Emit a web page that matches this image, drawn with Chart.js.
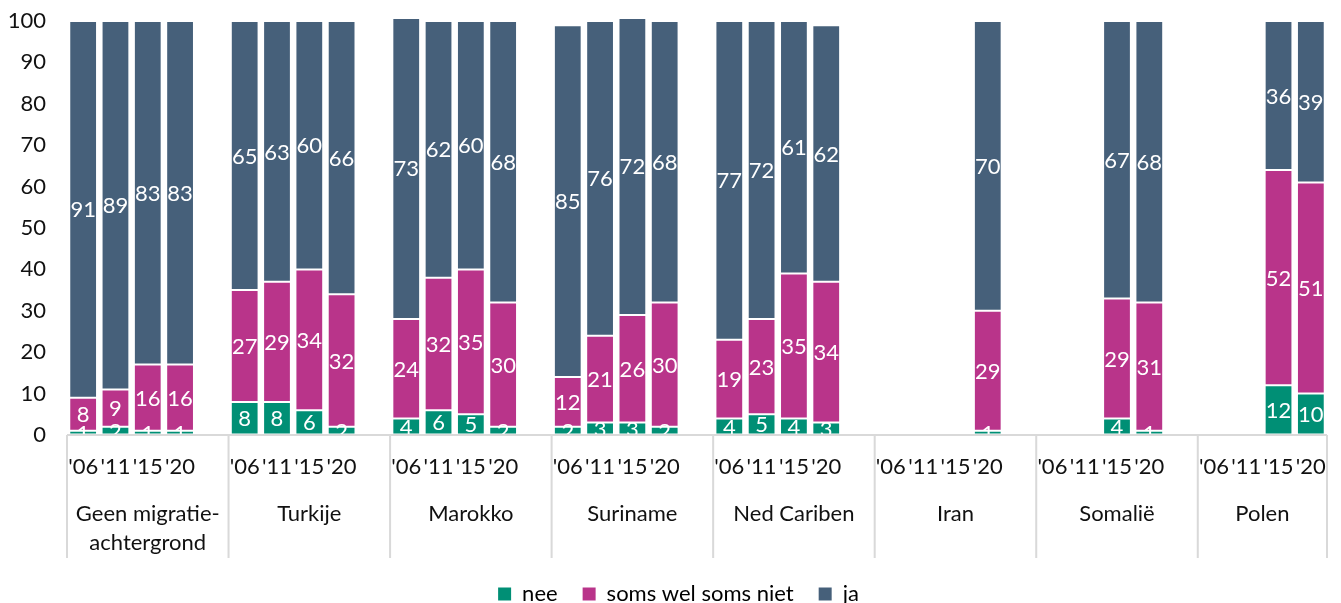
<!DOCTYPE html>
<html>
<head>
<meta charset="utf-8">
<script src="https://cdn.jsdelivr.net/npm/chart.js@4"></script>
<style>
  html, body { margin: 0; padding: 0; background: #fff; overflow: hidden; }
  #wrap { width: 1341px; height: 615px; position: relative; }
</style>
</head>
<body>
<div id="wrap"><canvas id="myChart"></canvas></div>
<script>
// groups and years (one label row each)
var groups = [['Geen migratie-', 'achtergrond'], ['Turkije'], ['Marokko'], ['Suriname'],
              ['Ned Cariben'], ['Iran'], ['Somalië'], ['Polen']];
var years = ["'06", "'11", "'15", "'20"];

// values per group, 4 years each
var nee  = [1, 2, 1, 1,   8, 8, 6, 2,   4, 6, 5, 2,   2, 3, 3, 2,   4, 5, 4, 3,
            null, null, null, 1,   null, null, 4, 1,   null, null, 12, 10];
var soms = [8, 9, 16, 16,   27, 29, 34, 32,   24, 32, 35, 30,   12, 21, 26, 30,   19, 23, 35, 34,
            null, null, null, 29,   null, null, 29, 31,   null, null, 52, 51];
var ja   = [91, 89, 83, 83,   65, 63, 60, 66,   73, 62, 60, 68,   85, 76, 72, 68,   77, 72, 61, 62,
            null, null, null, 70,   null, null, 67, 68,   null, null, 36, 39];

var yTicks = [0, 10, 20, 30, 40, 50, 60, 70, 80, 90, 100];

var FONT = 'Lato';
var colors = { nee: '#008f75', soms: '#b9348a', ja: '#46607a' };

// build category slots: 4 years + one empty slot between groups
var labels = [];
var groupRanges = [];
function spread(values) {
    var out = [];
    groups.forEach(function (g, gi) {
        years.forEach(function (y, yi) { out.push(values[gi * 4 + yi]); });
        if (gi < groups.length - 1) out.push(null);
    });
    return out;
}
groups.forEach(function (g, gi) {
    var start = labels.length;
    years.forEach(function (y) { labels.push(y); });
    if (gi < groups.length - 1) labels.push('');
    groupRanges.push([start, labels.length]);
});

// white value labels in the middle of each segment
var valueLabels = {
    id: 'valueLabels',
    afterDatasetsDraw: function (chart) {
        var ctx = chart.ctx;
        var area = chart.chartArea;
        ctx.save();
        ctx.beginPath();
        ctx.rect(area.left, area.top - 2, area.right - area.left, area.bottom - area.top + 2);
        ctx.clip();
        ctx.fillStyle = '#fff';
        ctx.font = '22px ' + FONT;
        ctx.textAlign = 'center';
        ctx.textBaseline = 'middle';
        chart.data.datasets.forEach(function (ds, di) {
            var meta = chart.getDatasetMeta(di);
            meta.data.forEach(function (bar, i) {
                var v = ds.data[i];
                if (v == null) return;
                ctx.fillText(String(v), bar.x, (bar.y + bar.base) / 2 + 1);
            });
        });
        ctx.restore();
    }
};

// group names and separators under the year labels
var groupAxis = {
    id: 'groupAxis',
    afterLayout: function (chart) {
        // legend sits a little right of centre in the original
        chart.legend.left += 15;
        chart.legend.right += 15;
    },
    afterDraw: function (chart) {
        var ctx = chart.ctx;
        var x = chart.scales.x;
        var top = chart.chartArea.bottom;
        var bottom = x.bottom;
        var half = (x.getPixelForValue(1) - x.getPixelForValue(0)) / 2;
        ctx.save();
        ctx.strokeStyle = '#d9d9d9';
        ctx.lineWidth = 2;
        ctx.beginPath();
        ctx.moveTo(chart.chartArea.left, top);
        ctx.lineTo(chart.chartArea.right, top);
        groupRanges.forEach(function (r, gi) {
            var x0 = x.getPixelForValue(r[0]) - half;
            ctx.moveTo(x0, top);
            ctx.lineTo(x0, bottom);
            if (gi === groupRanges.length - 1) {
                var x1 = x.getPixelForValue(r[1] - 1) + half;
                ctx.moveTo(x1, top);
                ctx.lineTo(x1, bottom);
            }
        });
        ctx.stroke();

        ctx.fillStyle = '#111';
        ctx.font = '22px ' + FONT;
        ctx.textAlign = 'center';
        ctx.textBaseline = 'middle';
        groupRanges.forEach(function (r, gi) {
            var x0 = x.getPixelForValue(r[0]) - half;
            var x1 = x.getPixelForValue(r[1] - 1) + half;
            groups[gi].forEach(function (line, li) {
                ctx.fillText(line, (x0 + x1) / 2, top + 79 + li * 29);
            });
        });
        ctx.restore();
    }
};

function makeSet(label, values, color) {
    return {
        label: label,
        data: spread(values),
        backgroundColor: color,
        borderColor: 'rgba(255,255,255,0.3)',
        borderWidth: 1,
        borderSkipped: false,
        categoryPercentage: 1,
        barPercentage: 0.86,
        clip: { left: 0, right: 0, top: 2, bottom: 0 }
    };
}

var ctx = document.getElementById('myChart').getContext('2d');
var myChart = new Chart(ctx, {
    type: 'bar',
    data: {
        labels: labels,
        datasets: [
            makeSet('nee', nee, colors.nee),
            makeSet('soms wel soms niet', soms, colors.soms),
            makeSet('ja', ja, colors.ja)
        ]
    },
    options: {
        responsive: true,
        maintainAspectRatio: false,
        animation: false,
        layout: { padding: { top: 21, right: 14, left: 0, bottom: 0 } },
        plugins: {
            legend: {
                position: 'bottom',
                labels: {
                    color: '#111',
                    font: { family: FONT, size: 22 },
                    boxWidth: 13,
                    boxHeight: 13,
                    padding: 25,
                    generateLabels: function (chart) {
                        return chart.data.datasets.map(function (ds, i) {
                            return {
                                text: ds.label,
                                fillStyle: ds.backgroundColor,
                                strokeStyle: ds.backgroundColor,
                                lineWidth: 0,
                                datasetIndex: i
                            };
                        });
                    }
                }
            },
            tooltip: { enabled: false }
        },
        scales: {
            x: {
                stacked: true,
                // transparent tick marks only push the year labels down
                grid: { display: true, drawOnChartArea: false, drawTicks: true, tickLength: 19, color: 'rgba(0,0,0,0)' },
                border: { display: false },
                ticks: {
                    color: '#111',
                    font: { family: FONT, size: 22 },
                    padding: 0,
                    maxRotation: 0,
                    autoSkip: false
                },
                afterFit: function (scale) { scale.height = 123; }
            },
            y: {
                stacked: true,
                min: 0,
                max: 100,
                grid: { display: true, drawOnChartArea: false, drawTicks: true, tickLength: 21, color: 'rgba(0,0,0,0)' },
                border: { display: false },
                afterBuildTicks: function (scale) {
                    scale.ticks = yTicks.map(function (v) { return { value: v }; });
                },
                ticks: {
                    color: '#111',
                    font: { family: FONT, size: 22 },
                    padding: 0
                },
                afterFit: function (scale) { scale.width = 67; }
            }
        }
    },
    plugins: [valueLabels, groupAxis]
});
</script>
</body>
</html>
